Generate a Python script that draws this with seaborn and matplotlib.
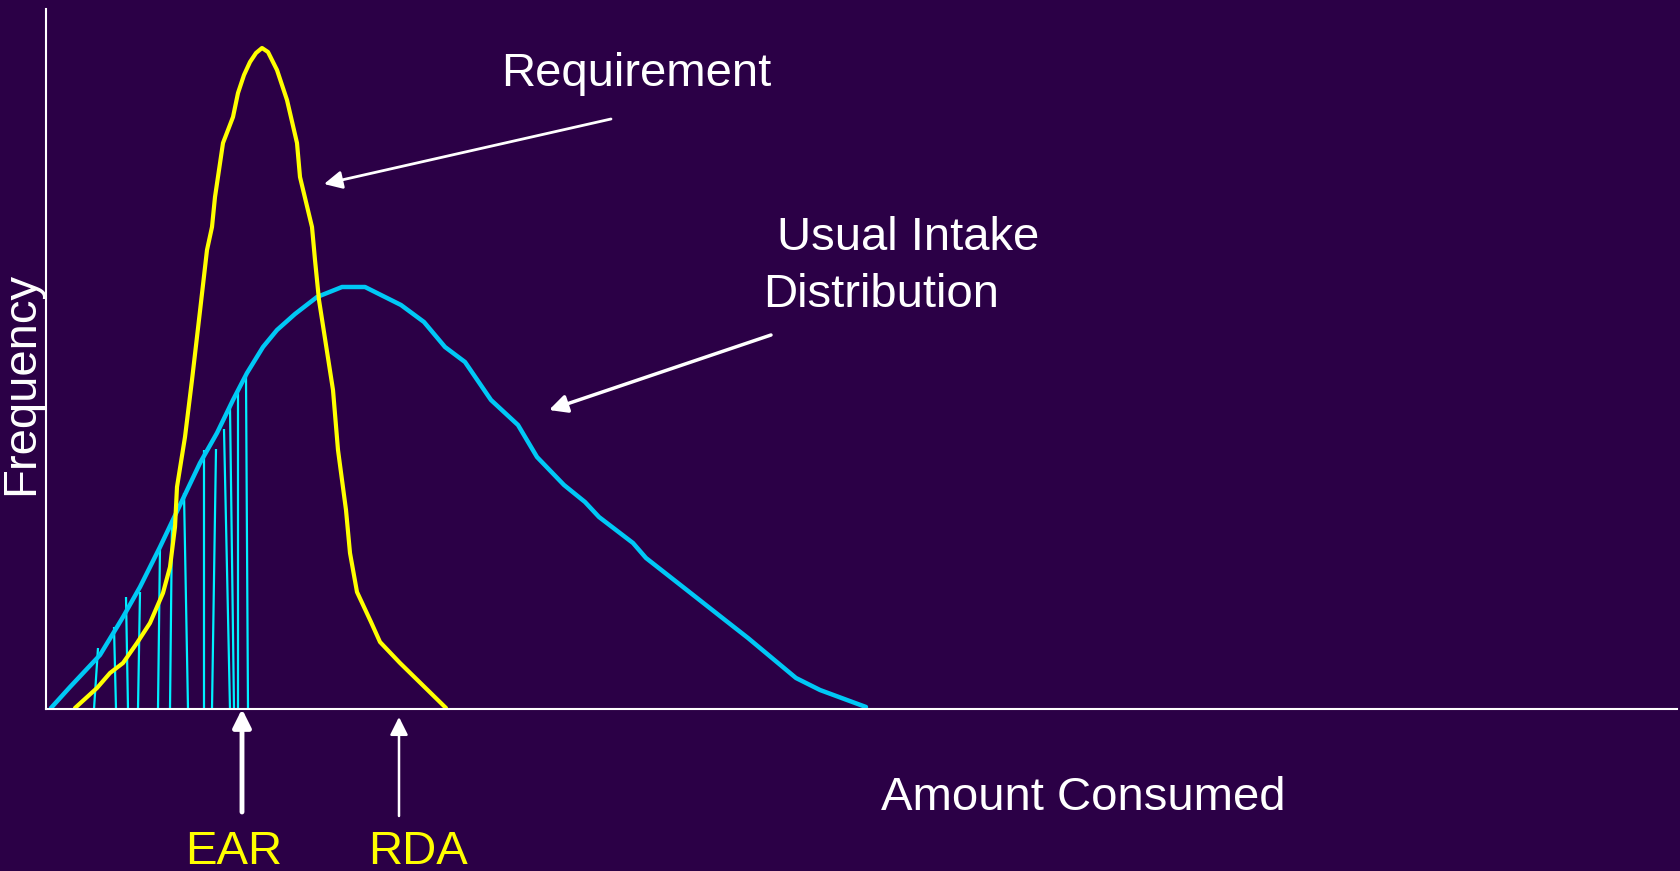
import numpy as np
import pandas as pd
import matplotlib.pyplot as plt
import seaborn as sns

sns.set_theme(style="white")
plt.rcParams['font.family'] = ['Liberation Sans', 'DejaVu Sans']

BG = "#2b0046"

# curves (amount consumed, frequency)
req_x = [29, 51, 64, 77, 91, 104, 117, 124, 129, 131, 139, 146, 154, 161, 166, 169, 177, 187, 192, 198, 204,
         210, 216, 222, 231, 241, 251, 254, 266, 269, 273, 287, 292, 300, 304, 311, 325, 334, 354, 400]
req_y = [1, 21, 36, 46, 66, 86, 116, 142, 182, 222, 272, 329, 398, 459, 482, 512, 566, 592, 616, 634, 647,
         656, 661, 657, 639, 609, 566, 532, 482, 449, 409, 319, 259, 199, 156, 117, 87, 67, 46, 1]

intake_x = [5, 24, 54, 71, 77, 94, 114, 134, 154, 171, 187, 201, 217, 231, 249, 271, 296, 319, 355, 378,
            399, 419, 445, 472, 491, 518, 539, 553, 587, 600, 637, 679, 702, 750, 774, 801, 820]
intake_y = [1, 22, 54, 82, 92, 122, 162, 204, 246, 276, 309, 336, 362, 379, 395, 412, 422, 422, 404, 387,
            362, 347, 309, 284, 252, 224, 207, 192, 166, 151, 122, 89, 71, 31, 19, 9, 2]

# shaded strokes under the intake curve, left of EAR
hatch_top_x = [52, 68, 80, 94, 114, 126, 138, 158, 170, 178, 184, 192, 200]
hatch_top_y = [61, 82, 112, 117, 162, 189, 216, 259, 260, 280, 302, 317, 332]
hatch_bot_x = [48, 70, 82, 92, 112, 124, 142, 158, 166, 184, 188, 192, 202]

ear_x = 196
rda_x = 353

req = pd.DataFrame({"amount": req_x, "freq": req_y})
intake = pd.DataFrame({"amount": intake_x, "freq": intake_y})

fig = plt.figure(figsize=(16.8, 8.71), dpi=100, facecolor=BG)
ax = fig.add_axes([46 / 1680, 162 / 871, 1631 / 1680, 700 / 871])
ax.set_facecolor(BG)

# hatch strokes
for xt, yt, xb in zip(hatch_top_x, hatch_top_y, hatch_bot_x):
    ax.plot([xb, xt], [0, yt], color="#00f0ff", lw=1.6, solid_capstyle="butt")

sns.lineplot(data=intake, x="amount", y="freq", sort=False, color="#00c8f5", lw=3.2, ax=ax)
sns.lineplot(data=req, x="amount", y="freq", sort=False, color="#ffff00", lw=3.0, ax=ax)

ax.set_xlim(0, 1631)
ax.set_ylim(0, 700)
ax.set_xticks([])
ax.set_yticks([])
ax.set_xlabel("")
ax.set_ylabel("")
for side in ["top", "right"]:
    ax.spines[side].set_visible(False)
for side in ["left", "bottom"]:
    ax.spines[side].set_color("white")
    ax.spines[side].set_linewidth(1.5)

# labels
fs = 34
ax.text(590, 635, "Requirement", color="white", fontsize=fs, ha="center", va="center")
ax.text(731, 471, "Usual Intake", color="white", fontsize=fs, ha="left", va="center")
ax.text(717, 414, "Distribution", color="white", fontsize=fs, ha="left", va="center")
ax.text(1037, -89, "Amount Consumed", color="white", fontsize=fs, ha="center", va="center", clip_on=False)
ax.text(-25, 326, "Frequency", color="white", fontsize=fs, ha="center", va="center", rotation=90, clip_on=False)
ax.text(188, -143, "EAR", color="#ffff00", fontsize=fs, ha="center", va="center", clip_on=False)
ax.text(372, -143, "RDA", color="#ffff00", fontsize=fs, ha="center", va="center", clip_on=False)

# arrows
ax.annotate("", xy=(278, 525), xytext=(565, 590),
            arrowprops=dict(arrowstyle="-|>", color="white", lw=2, mutation_scale=27, shrinkA=0, shrinkB=0))
ax.annotate("", xy=(503, 299), xytext=(725, 374),
            arrowprops=dict(arrowstyle="-|>", color="white", lw=2.5, mutation_scale=27, shrinkA=0, shrinkB=0))
ax.annotate("", xy=(ear_x, 0), xytext=(ear_x, -103), annotation_clip=False,
            arrowprops=dict(arrowstyle="-|>", color="white", lw=3.5, mutation_scale=27, shrinkA=0, shrinkB=0))
ax.annotate("", xy=(rda_x, -8), xytext=(rda_x, -107), annotation_clip=False,
            arrowprops=dict(arrowstyle="-|>", color="white", lw=1.8, mutation_scale=27, shrinkA=0, shrinkB=0))

fig.savefig("out.png", dpi=100, facecolor=BG)
